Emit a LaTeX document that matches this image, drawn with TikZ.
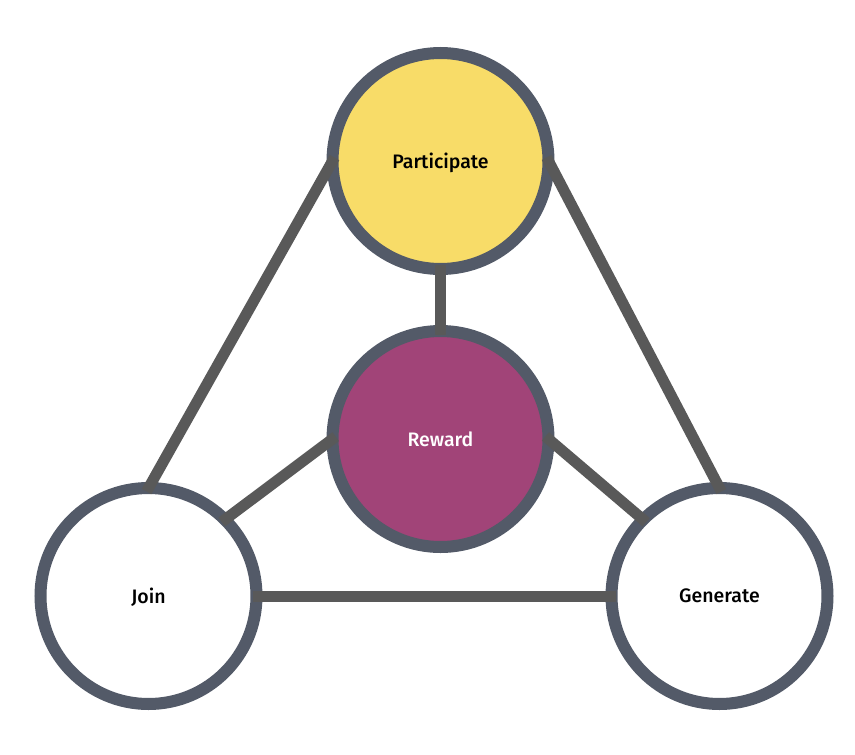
\documentclass[tikz,border=0pt]{standalone}
\usepackage{fontspec}
\setmainfont{Fira Sans}[UprightFont=* Medium]
\usepackage{tikz}
\usetikzlibrary{positioning}
\definecolor{ringgray}{HTML}{535A68}
\definecolor{linkgray}{HTML}{595959}
\definecolor{partyellow}{HTML}{F8DC68}
\definecolor{rewardpurple}{HTML}{A14478}
\begin{document}
\begin{tikzpicture}[x=1pt,y=-1pt,
    ring/.style={circle,draw=ringgray,line width=12pt,minimum size=216pt,inner sep=0pt,outer sep=0pt,text depth=0pt,font=\fontsize{19.5}{22}\selectfont},
    link/.style={draw=linkgray,line width=11pt,shorten <=-4pt,shorten >=-4pt}]
        \useasboundingbox (0,0) rectangle (855,755);
        % Nodes
        \node(participate) at (440.5,161)[ring,fill=partyellow] {Participate};
        \node(reward) at (440.5,439)[ring,fill=rewardpurple,text=white] {Reward};
        \node(join) at (148.5,596)[ring,fill=white] {Join};
        \node(generate) at (719.5,596)[ring,fill=white] {Generate};
        % Links
        \draw[link] (participate.west) -- (join.north);
        \draw[link] (participate.east) -- (generate.north);
        \draw[link] (participate.south) -- (reward.north);
        \draw[link] (reward.west) -- (join.north east);
        \draw[link] (reward.east) -- (generate.north west);
        \draw[link] (join.east) -- (generate.west);
    \end{tikzpicture}
\end{document}
